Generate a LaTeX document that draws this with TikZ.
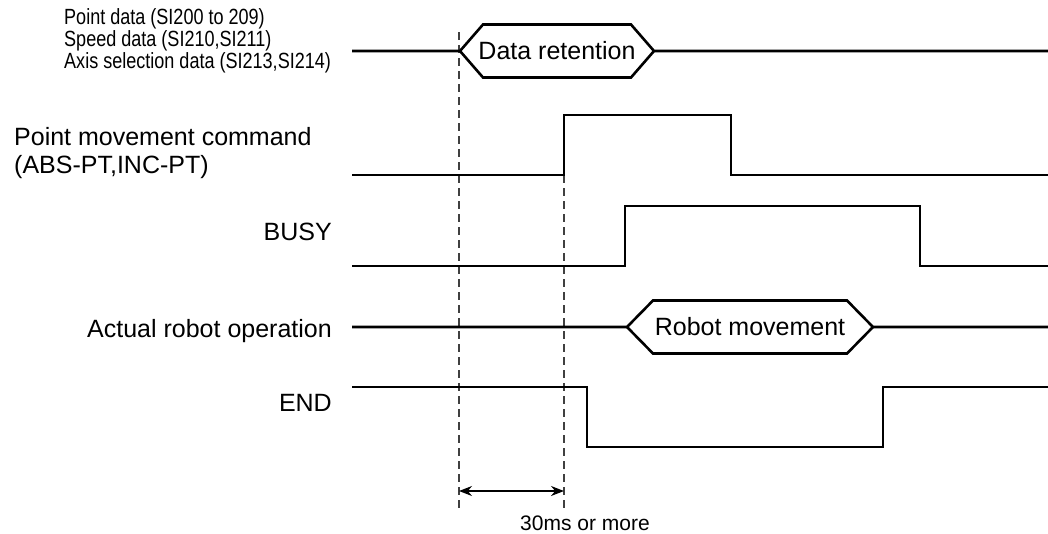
\documentclass[tikz,border=0pt]{standalone}
\usepackage{fontspec}
\setmainfont{Liberation Sans}
\newfontfamily\narrowsans{Liberation Sans}[FakeStretch=0.82]
\usetikzlibrary{arrows.meta}

\begin{document}
\begin{tikzpicture}[x=1pt,y=-1pt,
  wave/.style={line width=2.6pt,line join=miter},
  guide/.style={line width=1.3pt,black!75,dash pattern=on 8pt off 5pt},
  lbl/.style={inner sep=0pt,font=\fontsize{25}{28}\selectfont},
  small/.style={inner sep=0pt,font=\fontsize{21}{24}\selectfont}]
\useasboundingbox (0,0) rectangle (1048,533);
% signal names
\node [inner sep=0pt,anchor=base west,align=left,font=\narrowsans\fontsize{22}{19}\selectfont] (lblData) at (64,68)
  {Point data (SI200 to 209)\\Speed data (SI210,SI211)\\Axis selection data (SI213,SI214)};
\node [lbl,anchor=base west,align=left] (lblCmd) at (14,173) {Point movement command\\(ABS-PT,INC-PT)};
\node [lbl,anchor=base east] (lblBusy) at (332,240) {BUSY};
\node [lbl,anchor=base east] (lblRobot) at (332,337) {Actual robot operation};
\node [lbl,anchor=base east] (lblEnd) at (332,411) {END};
% guide lines
\draw [guide] (459,32) -- (459,508);
\draw [guide] (564,175) -- (564,508);
% data
\node [lbl] (retention) at (557,51) {Data retention};
\draw [wave] (352,51) -- (460,51) -- (483,24.5) -- (631,24.5) -- (654,51) -- (1048,51);
\draw [wave] (460,51) -- (483,77.5) -- (631,77.5) -- (654,51);
% command
\draw [wave] (352,175) -- (564,175) -- (564,115) -- (731,115) -- (731,175) -- (1048,175);
% busy
\draw [wave] (352,266) -- (625,266) -- (625,206) -- (920,206) -- (920,266) -- (1048,266);
% robot
\node [lbl] (movement) at (750,327) {Robot movement};
\draw [wave] (352,327) -- (627,327) -- (653,300.5) -- (847,300.5) -- (873,327) -- (1048,327);
\draw [wave] (627,327) -- (653,353.5) -- (847,353.5) -- (873,327);
% end
\draw [wave] (352,387) -- (587,387) -- (587,447) -- (883,447) -- (883,387) -- (1048,387);
% interval
\coordinate (t0) at (459,491);
\coordinate (t1) at (564,491);
\draw [line width=1.5pt,{Stealth[length=13pt,width=10pt]}-{Stealth[length=13pt,width=10pt]}] (t0) -- (t1);
\node [small,anchor=base] (note) at (585,530) {30ms or more};
\end{tikzpicture}
\end{document}
